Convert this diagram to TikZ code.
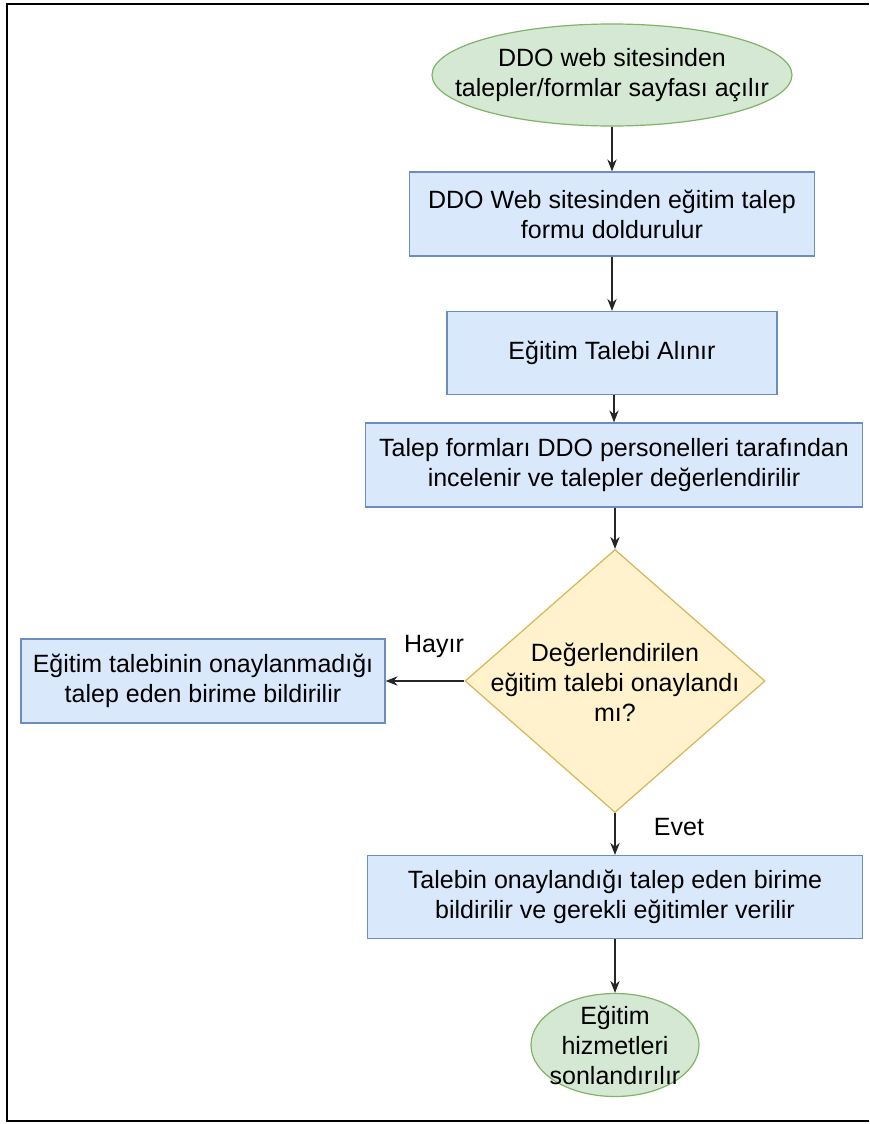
\documentclass[tikz,border=0pt]{standalone}
\usepackage{fontspec}
\setmainfont{Liberation Sans}
\usetikzlibrary{shapes.geometric,arrows.meta}
\definecolor{bfill}{HTML}{DAE8FC}
\definecolor{bdraw}{HTML}{6C8EBF}
\definecolor{gfill}{HTML}{D5E8D4}
\definecolor{gdraw}{HTML}{82B366}
\definecolor{yfill}{HTML}{FFF2CC}
\definecolor{ydraw}{HTML}{D6B656}
\begin{document}
\begin{tikzpicture}[x=0.75pt,y=-0.75pt,
  txt/.style={align=center,font=\fontsize{18.75}{22.5}\selectfont,inner sep=0pt},
  procbox/.style={draw=bdraw,fill=bfill,line width=0.9pt,inner sep=0pt,txt},
  termshape/.style={ellipse,draw=gdraw,fill=gfill,line width=0.9pt,inner sep=0pt},
  decshape/.style={diamond,draw=ydraw,fill=yfill,line width=0.9pt,inner sep=0pt},
  conn/.style={draw=black!85,line width=0.9pt,-{Stealth[length=9pt,width=7pt]}},
  lbl/.style={txt}
]
\useasboundingbox (0,0) rectangle (869,1124);
\fill[white] (0,0) rectangle (869,1124);
\draw[line width=1.6pt,black] (869,4) -- (7,4) -- (7,1121) -- (869,1121);

% start ellipse
\node[termshape,minimum width=360*0.75pt,minimum height=102*0.75pt] (n1) at (612,75) {};
\node[txt] at (n1) {DDO web sitesinden\\talepler/formlar sayfası açılır};

\node[procbox,minimum width=405*0.75pt,minimum height=84*0.75pt] (n2) at (612,214)
  {DDO Web sitesinden eğitim talep\\formu doldurulur};

\node[procbox,minimum width=330*0.75pt,minimum height=83*0.75pt] (n3) at (612,353)
  {Eğitim Talebi Alınır};

\node[procbox,minimum width=497*0.75pt,minimum height=84*0.75pt] (n4) at (614,465)
  {Talep formları DDO personelleri tarafından\\incelenir ve talepler değerlendirilir};

\node[decshape,minimum width=300*0.75pt,minimum height=263*0.75pt] (d) at (615,681) {};
\node[txt] at (615,682) {Değerlendirilen\\eğitim talebi onaylandı\\mı?};

\node[procbox,minimum width=364*0.75pt,minimum height=84*0.75pt] (no) at (203,681)
  {Eğitim talebinin onaylanmadığı\\talep eden birime bildirilir};

\node[procbox,minimum width=495*0.75pt,minimum height=83*0.75pt] (yes) at (615,897)
  {Talebin onaylandığı talep eden birime\\bildirilir ve gerekli eğitimler verilir};

\node[termshape,minimum width=168*0.75pt,minimum height=103*0.75pt] (n8) at (615,1045) {};
\node[txt] at (n8) {Eğitim\\hizmetleri\\sonlandırılır};

\node[lbl] (lh) at (434,646) {Hayır};
\node[lbl] (le) at (679,827) {Evet};

\draw[conn] (n1.south) -- (n2.north);
\draw[conn] (n2.south) -- (n3.north);
\draw[conn] (n3.south -| n4.north) -- (n4.north);
\draw[conn] (n4.south -| d.north) -- (d.north);
\draw[conn] (d.west) -- (no.east);
\draw[conn] (d.south) -- (yes.north);
\draw[conn] (yes.south) -- (n8.north);
\end{tikzpicture}
\end{document}
